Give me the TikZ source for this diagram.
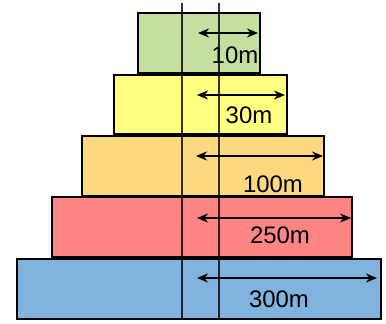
\documentclass[tikz,border=0pt]{standalone}
\usepackage{fontspec}
\setmainfont{Liberation Sans}
\usetikzlibrary{arrows.meta}
\definecolor{cgreen}{HTML}{C4DFA0}
\definecolor{cyellow}{HTML}{FFFF80}
\definecolor{corange}{HTML}{FCD980}
\definecolor{cred}{HTML}{FF8585}
\definecolor{cblue}{HTML}{80B3DE}
\tikzset{
  layer/.style={draw=black, line width=1.3bp, inner sep=0pt, outer sep=0pt, rectangle},
  dim/.style={line width=1.8bp, {Stealth[length=11bp,width=9bp]}-{Stealth[length=11bp,width=9bp]}},
  lbl/.style={font=\fontsize{24}{28}\selectfont, inner sep=0pt},
  axis/.style={line width=1.2bp, draw=black, opacity=0.8}
}
\begin{document}
\begin{tikzpicture}[x=1bp,y=-1bp]
\useasboundingbox (0,0) rectangle (386,324);
\node[layer, fill=cgreen,  minimum width=122bp, minimum height=60bp] (b1) at (199,43) {};
\node[layer, fill=cyellow, minimum width=173bp, minimum height=59bp] (b2) at (200.5,104.5) {};
\node[layer, fill=corange, minimum width=242bp, minimum height=60bp] (b3) at (203,166) {};
\node[layer, fill=cred,    minimum width=300bp, minimum height=60bp] (b4) at (202,227) {};
\node[layer, fill=cblue,   minimum width=364bp, minimum height=60bp] (b5) at (199,289) {};
% vertical axes
\coordinate (t1) at (182,3);
\coordinate (t2) at (219,3);
\coordinate (u1) at (182,319);
\coordinate (u2) at (219,319);
\draw[axis] (t1) -- (u1);
\draw[axis] (t2) -- (u2);
% arrows
\coordinate (a1) at (198,33);  \coordinate (e1) at (258,33);
\coordinate (a2) at (197,95);  \coordinate (e2) at (285,95);
\coordinate (a3) at (196,156); \coordinate (e3) at (323,156);
\coordinate (a4) at (197,218); \coordinate (e4) at (351,218);
\coordinate (a5) at (197,278); \coordinate (e5) at (377,278);
\draw[dim] (a1) -- (e1);
\draw[dim] (a2) -- (e2);
\draw[dim] (a3) -- (e3);
\draw[dim] (a4) -- (e4);
\draw[dim] (a5) -- (e5);
% labels
\node[lbl] (l1) at (235,55) {10m};
\node[lbl] (l2) at (249,115) {30m};
\node[lbl] (l3) at (273,184) {100m};
\node[lbl] (l4) at (280,235) {250m};
\node[lbl] (l5) at (279,299) {300m};
\end{tikzpicture}
\end{document}
